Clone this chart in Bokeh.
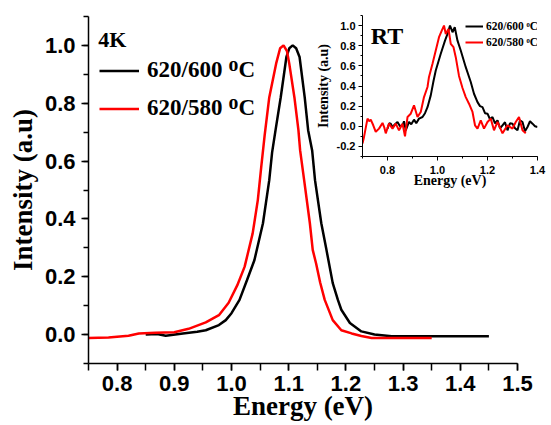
from bokeh.plotting import figure
from bokeh.models import Legend, LegendItem, Label, FixedTicker
from bokeh.layouts import row
from bokeh.embed import file_html
from bokeh.resources import INLINE
import numpy as np

# ---------------- data: main panel (4K) ----------------
e_600 = [0.85, 0.87, 0.885, 0.915, 0.94, 0.955, 0.978, 0.99, 1.0, 1.014, 1.027, 1.04, 1.055,
         1.066, 1.071, 1.077, 1.086, 1.096, 1.101, 1.107, 1.113, 1.119, 1.128, 1.134, 1.141,
         1.146, 1.157, 1.166, 1.177, 1.186, 1.192, 1.207, 1.227, 1.25, 1.28, 1.35, 1.45]
i_600 = [0.0, 0.002, -0.004, 0.004, 0.01, 0.015, 0.033, 0.05, 0.074, 0.12, 0.188, 0.257, 0.385,
         0.534, 0.63, 0.707, 0.82, 0.96, 0.99, 1.0, 0.99, 0.96, 0.82, 0.707, 0.637,
         0.534, 0.385, 0.293, 0.178, 0.12, 0.086, 0.04, 0.011, 0.0, -0.006, -0.006, -0.006]

e_580 = [0.75, 0.785, 0.82, 0.838, 0.867, 0.9, 0.925, 0.955, 0.978, 0.995, 1.01, 1.023, 1.037,
         1.046, 1.052, 1.058, 1.066, 1.078, 1.085, 1.091, 1.097, 1.101, 1.11, 1.117, 1.12,
         1.127, 1.137, 1.142, 1.148, 1.155, 1.163, 1.177, 1.192, 1.21, 1.227, 1.245, 1.28, 1.35]
i_580 = [-0.012, -0.01, -0.004, 0.004, 0.006, 0.008, 0.02, 0.042, 0.067, 0.11, 0.17, 0.235, 0.35,
         0.465, 0.58, 0.69, 0.82, 0.937, 0.99, 1.0, 0.98, 0.937, 0.82, 0.707, 0.637,
         0.534, 0.385, 0.293, 0.245, 0.18, 0.12, 0.05, 0.015, 0.004, -0.005, -0.012, -0.012, -0.012]

# ---------------- data: inset (RT) ----------------
rt_e_600 = [0.8, 0.807, 0.813, 0.82, 0.826, 0.84, 0.85, 0.86, 0.866, 0.873, 0.886, 0.895, 0.906,
            0.915, 0.926, 0.94, 0.95, 0.96, 0.973, 0.984, 0.993, 1.013, 1.03, 1.04, 1.05, 1.06,
            1.069, 1.08, 1.093, 1.113, 1.133, 1.146, 1.16, 1.17, 1.18, 1.19, 1.2, 1.21, 1.22,
            1.23, 1.24, 1.25, 1.26, 1.27, 1.28, 1.29, 1.3, 1.31, 1.32, 1.33, 1.34, 1.35, 1.36,
            1.37, 1.38, 1.39, 1.4]
rt_i_600 = [-0.023, 0.03, 0.026, -0.01, 0.01, 0.043, 0.0, 0.01, 0.05, -0.04, 0.043, 0.02, 0.066,
            0.03, 0.076, 0.092, 0.13, 0.19, 0.307, 0.45, 0.554, 0.72, 0.85, 0.917, 1.0, 0.934,
            0.983, 0.85, 0.752, 0.587, 0.44, 0.323, 0.24, 0.2, 0.19, 0.13, 0.125, 0.07, 0.092,
            0.03, 0.059, -0.02, 0.01, 0.04, -0.04, 0.03, 0.026, -0.02, -0.04, 0.06, 0.043, -0.05, -0.007,
            0.05, 0.026, 0.0, -0.007]

rt_e_580 = [0.7, 0.705, 0.711, 0.72, 0.727, 0.733, 0.743, 0.753, 0.766, 0.78, 0.787, 0.793, 0.806,
            0.82, 0.833, 0.846, 0.86, 0.87, 0.88, 0.893, 0.906, 0.92, 0.933, 0.946, 0.96, 0.966,
            0.98, 0.993, 1.006, 1.017, 1.026, 1.033, 1.044, 1.053, 1.064, 1.073, 1.086, 1.1,
            1.113, 1.126, 1.14, 1.15, 1.16, 1.173, 1.186, 1.2, 1.213, 1.226, 1.24, 1.26, 1.28,
            1.3, 1.313, 1.326, 1.34, 1.353]
rt_i_580 = [-0.17, -0.12, -0.04, 0.076, 0.05, 0.066, 0.01, -0.055, -0.023, 0.033, -0.01, -0.07, 0.026,
            -0.023, 0.026, -0.04, 0.026, -0.1, 0.092, 0.125, 0.208, 0.092, 0.142, 0.29, 0.39, 0.49,
            0.62, 0.752, 0.885, 0.95, 1.0, 0.917, 0.967, 0.818, 0.785, 0.686, 0.5, 0.38,
            0.29, 0.224, 0.142, 0.01, -0.023, 0.059, -0.023, 0.043, 0.076, -0.04, 0.043, -0.07, 0.01,
            -0.023, 0.043, 0.092, -0.04, -0.07]

series_labels = ["620/600 \u1d3cC", "620/580 \u1d3cC"]
inset_labels = ["620/600 \u1d52C", "620/580 \u1d52C"]
colors = ["black", "#ff0000"]

x_ticks = [0.8, 0.9, 1.0, 1.1, 1.2, 1.3, 1.4, 1.5]
x_tick_labels = ["0.8", "0.9", "1.0", "1.1", "1.2", "1.3", "1.4", "1.5"]
y_ticks = [0.0, 0.2, 0.4, 0.6, 0.8, 1.0]
y_tick_labels = ["0.0", "0.2", "0.4", "0.6", "0.8", "1.0"]
rt_x_ticks = [0.8, 1.0, 1.2, 1.4]
rt_x_tick_labels = ["0.8", "1.0", "1.2", "1.4"]
rt_y_ticks = [-0.2, 0.0, 0.2, 0.4, 0.6, 0.8, 1.0]
rt_y_tick_labels = ["-0.2", "0.0", "0.2", "0.4", "0.6", "0.8", "1.0"]

SERIF = "Liberation Serif"
SANS = "Liberation Sans"

# ---------------- main figure ----------------
p = figure(width=543, height=424, output_backend="svg", toolbar_location=None,
           x_range=(0.75, 1.5), y_range=(-0.1, 1.1),
           min_border_left=88, min_border_right=26, min_border_top=16, min_border_bottom=61,
           x_axis_label="Energy (eV)", y_axis_label="Intensity (a.u)")
p.outline_line_color = None
p.grid.visible = False
p.background_fill_color = "white"
p.border_fill_color = "white"

r1 = p.line(e_600, i_600, line_color=colors[0], line_width=2.5)
r2 = p.line(e_580, i_580, line_color=colors[1], line_width=2.5)

p.xaxis.ticker = FixedTicker(ticks=x_ticks, minor_ticks=list(np.round(np.arange(0.75, 1.51, 0.05), 3)))
p.xaxis.major_label_overrides = dict(zip(x_ticks, x_tick_labels))
p.yaxis.ticker = FixedTicker(ticks=y_ticks, minor_ticks=list(np.round(np.arange(-0.1, 1.11, 0.1), 3)))
p.yaxis.major_label_overrides = dict(zip(y_ticks, y_tick_labels))

for ax in (p.xaxis, p.yaxis):
    ax.axis_line_width = 1.5
    ax.major_tick_line_width = 1.5
    ax.minor_tick_line_width = 1.5
    ax.major_tick_in = 0
    ax.major_tick_out = 7
    ax.minor_tick_in = 0
    ax.minor_tick_out = 5
    ax.major_label_text_font = SANS
    ax.major_label_text_font_style = "bold"
    ax.major_label_text_font_size = "22px"
    ax.major_label_text_color = "black"
    ax.axis_label_text_font = SERIF
    ax.axis_label_text_font_style = "bold"
    ax.axis_label_text_font_size = "27px"
    ax.axis_label_text_color = "black"
p.xaxis.minor_tick_out = 7
p.xaxis.major_label_standoff = 5
p.xaxis.axis_label_standoff = -3
p.yaxis.major_label_standoff = 6
p.yaxis.axis_label_standoff = 4

legend = Legend(items=[LegendItem(label=series_labels[0], renderers=[r1]),
                       LegendItem(label=series_labels[1], renderers=[r2])],
                location=(11, 242), padding=0, margin=0, spacing=12,
                glyph_width=40, glyph_height=25, label_height=25, label_standoff=8,
                label_text_font=SERIF, label_text_font_style="bold", label_text_font_size="23px",
                label_text_color="black",
                background_fill_alpha=0, border_line_color=None)
p.add_layout(legend)

p.add_layout(Label(x=0.767, y=1.02, text="4K", text_font=SERIF, text_font_style="bold",
                   text_font_size="22px", text_baseline="middle", text_color="black"))

# ---------------- inset figure ----------------
q = figure(width=245, height=218, output_backend="svg", toolbar_location=None,
           x_range=(0.7, 1.4), y_range=(-0.3, 1.1),
           min_border_left=56, min_border_right=14, min_border_top=16, min_border_bottom=61,
           x_axis_label="Energy (eV)", y_axis_label="Intensity (a.u)")
q.outline_line_color = None
q.grid.visible = False
q.background_fill_color = None
q.border_fill_color = None

s1 = q.line(rt_e_600, rt_i_600, line_color=colors[0], line_width=2)
s2 = q.line(rt_e_580, rt_i_580, line_color=colors[1], line_width=2)

q.xaxis.ticker = FixedTicker(ticks=rt_x_ticks, minor_ticks=list(np.round(np.arange(0.7, 1.41, 0.1), 3)))
q.xaxis.major_label_overrides = dict(zip(rt_x_ticks, rt_x_tick_labels))
q.yaxis.ticker = FixedTicker(ticks=rt_y_ticks, minor_ticks=list(np.round(np.arange(-0.3, 1.11, 0.1), 3)))
q.yaxis.major_label_overrides = dict(zip(rt_y_ticks, rt_y_tick_labels))
for ax in (q.xaxis, q.yaxis):
    ax.axis_line_width = 1
    ax.major_tick_in = 0
    ax.major_tick_out = 4
    ax.minor_tick_in = 0
    ax.minor_tick_out = 2
    ax.major_label_text_font = SANS
    ax.major_label_text_font_style = "bold"
    ax.major_label_text_font_size = "11px"
    ax.major_label_text_color = "black"
    ax.axis_label_text_font = SERIF
    ax.axis_label_text_font_style = "bold"
    ax.axis_label_text_font_size = "14px"
    ax.axis_label_text_color = "black"
q.xaxis.major_label_standoff = 5
q.xaxis.axis_label_standoff = -4
q.yaxis.major_label_standoff = 3
q.yaxis.axis_label_standoff = 3

qlegend = Legend(items=[LegendItem(label=inset_labels[0], renderers=[s1]),
                        LegendItem(label=inset_labels[1], renderers=[s2])],
                 location=(103, 107), padding=0, margin=0, spacing=2,
                 glyph_width=18, glyph_height=14, label_height=14, label_standoff=3,
                 label_text_font=SERIF, label_text_font_style="bold", label_text_font_size="11.5px",
                 label_text_color="black",
                 background_fill_alpha=0, border_line_color=None)
q.add_layout(qlegend)
q.add_layout(Label(x=0.733, y=0.9, text="RT", text_font=SERIF, text_font_style="bold",
                   text_font_size="24px", text_baseline="middle", text_color="black"))

q.styles = {"position": "absolute", "left": "306px", "top": "-1px"}
lay = row(p, q, width=543, height=424)
lay.styles = {"position": "relative"}

open("out.html", "w").write(file_html(lay, INLINE))
